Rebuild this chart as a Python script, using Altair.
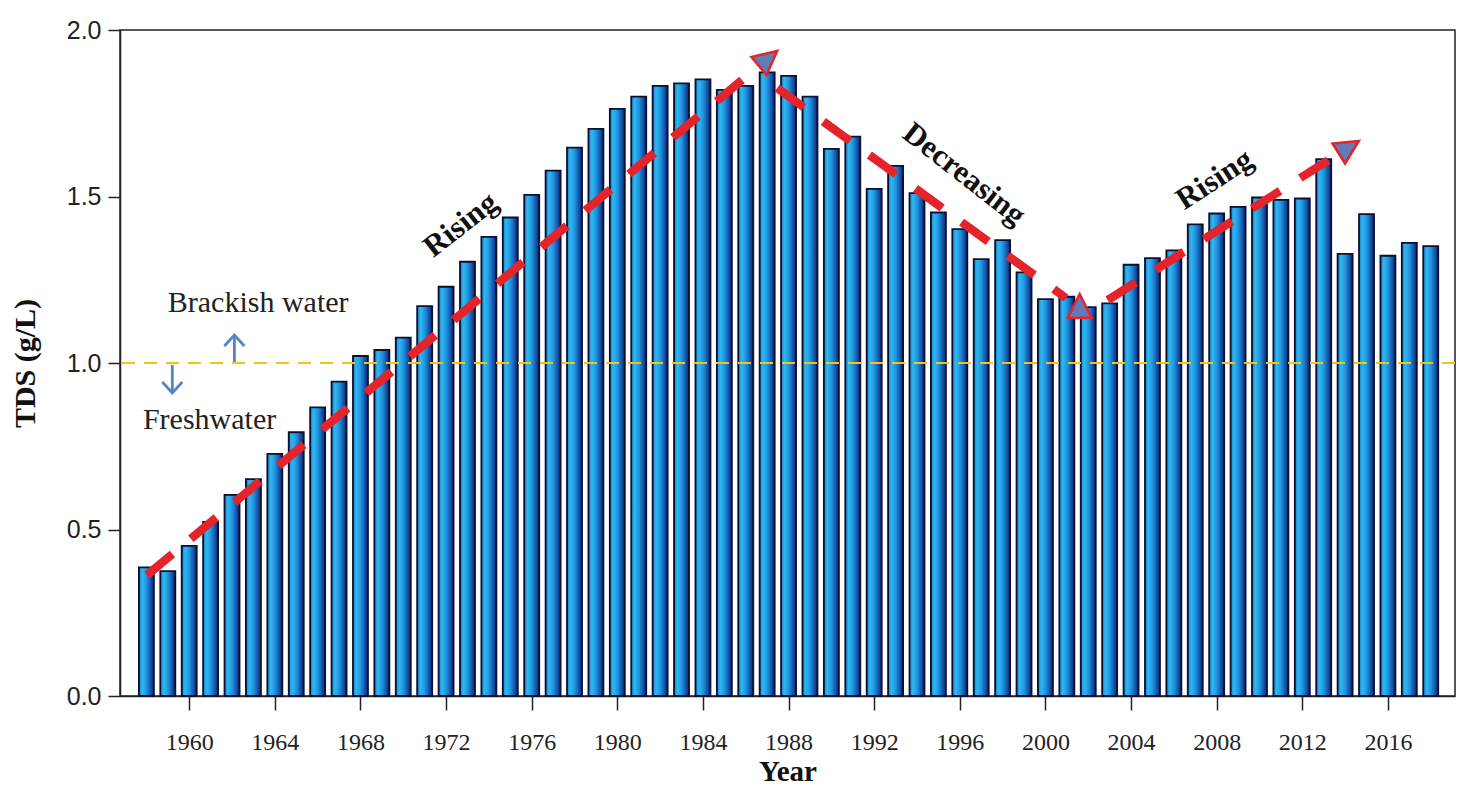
import altair as alt
import pandas as pd

# ---------------- data ----------------
years = list(range(1958, 2019))
tds = [0.386, 0.375, 0.451, 0.523, 0.604, 0.651, 0.727, 0.792, 0.867, 0.944,
       1.021, 1.039, 1.076, 1.171, 1.229, 1.304, 1.379, 1.437, 1.505, 1.578,
       1.647, 1.703, 1.763, 1.800, 1.832, 1.840, 1.852, 1.820, 1.832, 1.873,
       1.862, 1.800, 1.643, 1.680, 1.523, 1.592, 1.510, 1.452, 1.402, 1.312,
       1.369, 1.272, 1.192, 1.199, 1.168, 1.179, 1.295, 1.315, 1.338, 1.416,
       1.449, 1.469, 1.497, 1.490, 1.494, 1.612, 1.328, 1.447, 1.322, 1.361,
       1.351]
year_ticks = list(range(1960, 2017, 4))
tds_ticks = [0.0, 0.5, 1.0, 1.5, 2.0]

# trend arrows (data coordinates): segment id, x, y
trend_seg = ["r1", "r1", "d", "d", "r2", "r2"]
trend_x = [1958.03, 1986.82, 1987.47, 2000.96, 2002.91, 2013.93]
trend_y = [0.363, 1.903, 1.826, 1.195, 1.189, 1.638]
trend_order = [0, 1, 0, 1, 0, 1]

# arrow heads (tip position + rotation)
head_x = [1987.47, 2001.60, 2014.64]
head_y = [1.937, 1.207, 1.667]
head_angle = [50.5, 0, 57.8]

# labels on the trends
trend_text = ["Rising", "Decreasing", "Rising"]
trend_text_x = [1972.69, 1996.19, 2007.91]
trend_text_y = [1.414, 1.566, 1.550]
trend_text_angle = [322, 38, 327]

# water type notes
note_text = ["Brackish water", "Freshwater"]
note_x = [1963.22, 1960.95]
note_y = [1.180, 0.829]

# small blue arrows at threshold
barrow_x = [1962.11, 1959.21]
barrow_from = [1.003, 0.994]
barrow_to = [1.084, 0.910]
barrow_angle = [0, 180]

threshold = [1.0]

# ---------------- tables ----------------
bars_df = pd.DataFrame({"Year": years, "TDS": tds})
trend_df = pd.DataFrame({"seg": trend_seg, "x": trend_x, "y": trend_y, "o": trend_order})
head_df = pd.DataFrame({"x": head_x, "y": head_y, "a": head_angle})
ttext_df = pd.DataFrame({"t": trend_text, "x": trend_text_x, "y": trend_text_y, "a": trend_text_angle})
note_df = pd.DataFrame({"t": note_text, "x": note_x, "y": note_y})
barrow_df = pd.DataFrame({"x": barrow_x, "y": barrow_from, "y2": barrow_to, "a": barrow_angle})
thr_df = pd.DataFrame({"y": threshold})

xs = alt.Scale(domain=[1957.0, 2018.9], nice=False, zero=False)
ys = alt.Scale(domain=[0, 2], nice=False)

xa = alt.Axis(values=year_ticks, format="d", title="Year", grid=False,
              labelFont="Liberation Serif", labelFontSize=24,
              labelColor="#222", tickSize=14, tickWidth=1.5,
              tickColor="#222", domainColor="#222", domainWidth=1.5,
              labelPadding=20, titleFont="Liberation Serif",
              titleFontSize=29, titleFontWeight="bold",
              titleColor="#111", titlePadding=3, labelFlush=False)
ya = alt.Axis(values=tds_ticks, format=".1f", title="TDS (g/L)", grid=False,
              labelFont="Liberation Sans", labelFontSize=25,
              labelColor="#222", tickSize=12, tickWidth=1.5,
              tickColor="#222", domainColor="#222", domainWidth=1.5,
              labelPadding=7, titleFont="Liberation Serif",
              titleFontSize=30, titleFontWeight="bold",
              titleColor="#111", titlePadding=26)

grad = alt.Gradient(
    gradient="linear",
    stops=[
        alt.GradientStop(color="#1a7acb", offset=0),
        alt.GradientStop(color="#2db9f0", offset=0.22),
        alt.GradientStop(color="#2096e0", offset=0.5),
        alt.GradientStop(color="#1452a8", offset=0.8),
        alt.GradientStop(color="#0c1f66", offset=1),
    ],
    x1=0, x2=1, y1=0, y2=0,
)

bars = alt.Chart(bars_df).mark_bar(
    size=15, color=grad, stroke="#0b1030", strokeWidth=1.8
).encode(
    x=alt.X("Year:Q", scale=xs, axis=xa),
    y=alt.Y("TDS:Q", scale=ys, axis=ya),
)

thr = alt.Chart(thr_df).mark_rule(
    color="#f2c419", strokeWidth=2.2, strokeDash=[13, 9]
).encode(y=alt.Y("y:Q", scale=ys, axis=ya))

trend = alt.Chart(trend_df).mark_line(
    color="#e5232a", strokeWidth=8.5, strokeDash=[33, 24], strokeCap="butt"
).encode(
    x=alt.X("x:Q", scale=xs, axis=xa),
    y=alt.Y("y:Q", scale=ys, axis=ya),
    detail="seg:N",
    order="o:Q",
)

heads = alt.Chart(head_df).mark_point(
    shape="M0,0L-1,2L1,2Z", filled=True, fill="#5f7cb8", stroke="#e5232a",
    strokeWidth=2.5, size=560, opacity=1, fillOpacity=1, strokeOpacity=1
).encode(
    x=alt.X("x:Q", scale=xs, axis=xa),
    y=alt.Y("y:Q", scale=ys, axis=ya),
    angle=alt.Angle("a:Q", scale=None),
)

ttext = alt.Chart(ttext_df).mark_text(
    font="Liberation Serif", fontSize=31, fontWeight="bold", color="#111",
    align="center", baseline="middle"
).encode(
    x=alt.X("x:Q", scale=xs, axis=xa),
    y=alt.Y("y:Q", scale=ys, axis=ya),
    text="t:N",
    angle=alt.Angle("a:Q", scale=None),
)

notes = alt.Chart(note_df).mark_text(
    font="Liberation Serif", fontSize=30, color="#222",
    align="center", baseline="middle"
).encode(
    x=alt.X("x:Q", scale=xs, axis=xa),
    y=alt.Y("y:Q", scale=ys, axis=ya),
    text="t:N",
)

bshaft = alt.Chart(barrow_df).mark_rule(color="#4f86c6", strokeWidth=2.8).encode(
    x=alt.X("x:Q", scale=xs, axis=xa),
    y=alt.Y("y:Q", scale=ys, axis=ya),
    y2="y2:Q",
)

bhead = alt.Chart(barrow_df).mark_point(
    shape="M-1,1.1L0,0L1,1.1", filled=False, color="#4f86c6",
    strokeWidth=2.8, size=400, opacity=1
).encode(
    x=alt.X("x:Q", scale=xs, axis=xa),
    y=alt.Y("y2:Q", scale=ys, axis=ya),
    angle=alt.Angle("a:Q", scale=None),
)

chart = alt.layer(bars, thr, trend, heads, ttext, notes, bshaft, bhead).properties(
    width=1335, height=666,
    padding={"left": 112, "top": 22, "right": 1, "bottom": 96},
    autosize=alt.AutoSizeParams(type="none"),
    background="white",
).configure_view(stroke="#222", strokeWidth=1.5)

chart.save("out.html", embed_options={"renderer": "svg", "actions": False})
